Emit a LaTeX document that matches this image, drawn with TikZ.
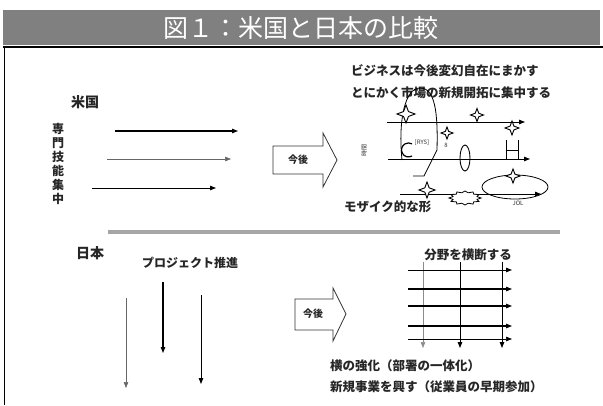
\documentclass[tikz,border=0pt]{standalone}
\usepackage{fontspec}
\newfontfamily\jp{Noto Sans CJK JP}
\usetikzlibrary{shapes.geometric,arrows.meta}
\tikzset{
  lbl/.style={inner sep=0pt, font=\jp\bfseries\fontsize{12.5}{14}\selectfont, text=black!85},
  small/.style={inner sep=0pt, font=\jp\fontsize{6}{7}\selectfont, text=black!80},
  arr/.style={-{Triangle[length=6pt,width=4.5pt]}, line width=1.1pt},
  thinarr/.style={-{Triangle[length=6pt,width=4.5pt]}, line width=0.6pt, draw=black!60},
  blockarr/.style={draw=black!80, line width=0.8pt, fill=white},
  fourstar/.style={star, star points=4, star point ratio=2.6, draw, line width=0.9pt, fill=white, inner sep=0pt, minimum size=#1},
}
\begin{document}
\begin{tikzpicture}[x=1pt,y=-1pt]
\useasboundingbox (0,0) rectangle (603,405);
\fill[white] (0,0) rectangle (603,405);
% title bar
\fill[black!50] (3,10) rectangle (600,45);
\node[inner sep=0pt, text=white, font=\jp\fontsize{25}{27}\selectfont] (title) at (301,28) {図１：米国と日本の比較};
\draw[line width=2.5pt] (3,47) -- (603,47);
\draw[line width=1.5pt] (4.5,46) -- (4.5,405);
% separator
\draw[black!35, line width=3.5pt] (108,232) -- (560,232);

% ===== US =====
\node[lbl, font=\jp\bfseries\fontsize{14}{16}\selectfont] (us) at (85,102) {米国};
\node[lbl, align=center, font=\jp\bfseries\fontsize{12}{14}\selectfont] (usv) at (58,164) {専\\門\\技\\能\\集\\中};
\coordinate (ua1) at (115,131); \coordinate (ub1) at (238,131);
\coordinate (ua2) at (107,159); \coordinate (ub2) at (231,159);
\coordinate (ua3) at (92,188);  \coordinate (ub3) at (216,188);
\draw[arr] (ua1) -- (ub1);
\draw[thinarr] (ua2) -- (ub2);
\draw[arr, line width=0.9pt] (ua3) -- (ub3);

% US block arrow
\draw[blockarr] (273,146) -- (323,146) -- (323,133) -- (337,160) -- (323,187) -- (323,174) -- (273,174) -- cycle;
\node[lbl, font=\jp\bfseries\fontsize{10}{12}\selectfont] (usnext) at (298,160) {今後};

% US right text
\node[lbl, anchor=west] (ust1) at (351,71) {ビジネスは今後変幻自在にまかす};
\node[lbl, anchor=west] (ust2) at (351,93) {とにかく市場の新規開拓に集中する};

% US diagram lines
\coordinate (l1a) at (387,122); \coordinate (l1b) at (525,122);
\coordinate (l2a) at (388,159); \coordinate (l2b) at (530,159);
\coordinate (l3a) at (400,194); \coordinate (l3b) at (541,194);
\draw[arr, line width=0.9pt] (l1a) -- (l1b);
\draw[arr, line width=0.9pt] (l2a) -- (l2b);
\draw[arr, line width=0.9pt] (l3a) -- (l3b);
\node[small, rotate=90] (time) at (364,150) {時間};
% loop
\draw[line width=0.8pt] (402,160) .. controls (398,120) and (405,88) .. (420,88)
   .. controls (435,88) and (438,112) .. (437,150) -- (424,176) -- (413,176);
\draw[line width=1.2pt] (412,156) arc[start angle=60, end angle=300, radius=7];
\node[small] (rys) at (422,143) {[RYS]};
% shapes
\node[fourstar=18pt] (s1) at (406,114) {};
\node[fourstar=13pt] (s2) at (477,115) {};
\node[fourstar=12pt] (s3) at (447,133) {};
\node[small] (b8) at (446,145) {8};
\draw[line width=0.9pt] (465,158) ellipse[x radius=5, y radius=13];
\node[fourstar=14pt] (s4) at (512,128) {};
\draw[line width=0.8pt] (506,140) -- (506,160) (518,140) -- (518,160) (506,150) -- (518,150);
\draw[line width=0.8pt] (515,187) ellipse[x radius=33, y radius=12];
\node[fourstar=14pt] (s5) at (513,176) {};
\node[fourstar=16pt] (s6) at (427,190) {};
\node[star, star points=12, star point ratio=1.3, draw, line width=0.8pt, fill=white, minimum size=14pt, inner sep=0pt, xscale=2.3] (s7) at (465,198) {};
\node[small] (jol) at (518,203) {JOL};
\node[lbl, anchor=west] (mosaic) at (344,207) {モザイク的な形};

% ===== Japan =====
\node[lbl, font=\jp\bfseries\fontsize{14}{16}\selectfont] (jp) at (90,253) {日本};
\node[lbl, font=\jp\bfseries\fontsize{12}{14}\selectfont] (proj) at (190,263) {プロジェクト推進};
\coordinate (ja1) at (126,298); \coordinate (jb1) at (126,388);
\coordinate (ja2) at (163,282); \coordinate (jb2) at (163,353);
\coordinate (ja3) at (201,295); \coordinate (jb3) at (201,384);
\draw[thinarr] (ja1) -- (jb1);
\draw[arr] (ja2) -- (jb2);
\draw[arr, line width=0.9pt] (ja3) -- (jb3);

% Japan block arrow
\draw[blockarr] (295,299) -- (333,299) -- (333,288) -- (346,314) -- (333,341) -- (333,330) -- (295,330) -- cycle;
\node[lbl, font=\jp\bfseries\fontsize{10}{12}\selectfont] (jpnext) at (313,314) {今後};

% grid
\coordinate (v1a) at (423,262); \coordinate (v1b) at (423,348);
\coordinate (v2a) at (460,253); \coordinate (v2b) at (460,348);
\coordinate (v3a) at (502,257); \coordinate (v3b) at (502,348);
\draw[thinarr, draw=black!45] (v1a) -- (v1b);
\draw[arr, line width=0.9pt] (v2a) -- (v2b);
\draw[arr, line width=0.9pt] (v3a) -- (v3b);
\foreach \yy/\w in {270/0.9, 289/1.1, 306/1.1, 326/1.1, 339/0.7}{
  \draw[arr, line width=\w pt] (408,\yy) -- (512,\yy);
}
\node[lbl, fill=white, inner sep=1pt] (cross) at (468,255) {分野を横断する};
\node[lbl, anchor=west] (jt1) at (330,366) {横の強化（部署の一体化）};
\node[lbl, anchor=west] (jt2) at (330,387) {新規事業を興す（従業員の早期参加）};
\end{tikzpicture}
\end{document}
